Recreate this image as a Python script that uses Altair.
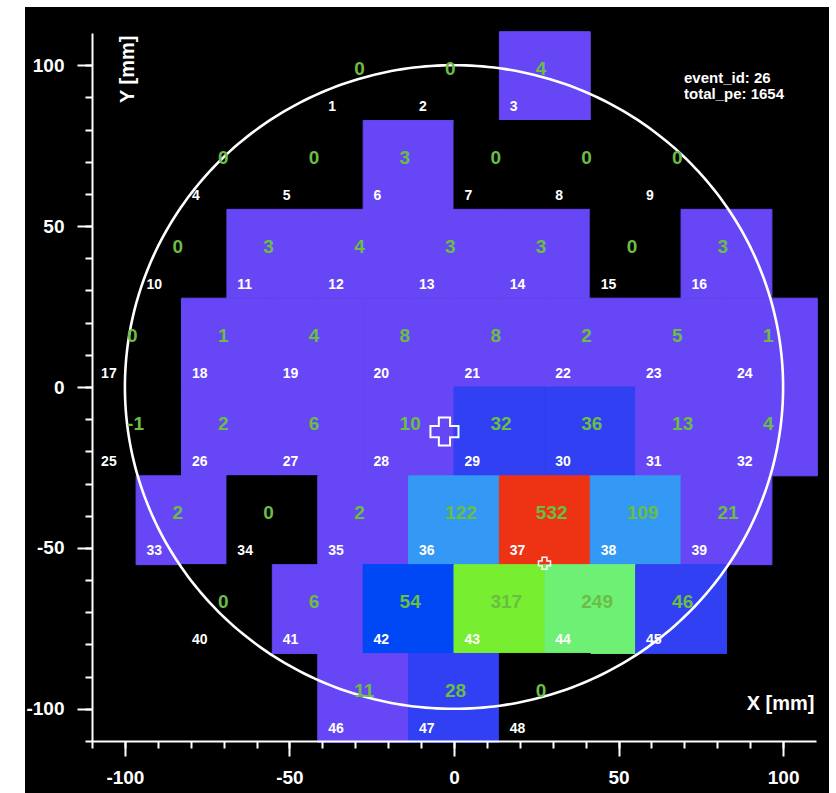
import altair as alt
import numpy as np
import pandas as pd

FONT = "Liberation Sans"

# PMT array layout: row centres (mm) and x centres of the cells in each row (mm)
ROW_Y = [96.6, 69.0, 41.4, 13.8, -13.8, -41.4, -69.0, -96.6]
ROW_X = [
    [-27.6, 0.0, 27.6],
    [-69.0, -41.4, -13.8, 13.8, 41.4, 69.0],
    [-82.8, -55.2, -27.6, 0.0, 27.6, 55.2, 82.8],
    [-96.6, -69.0, -41.4, -13.8, 13.8, 41.4, 69.0, 96.6],
    [-96.6, -69.0, -41.4, -13.8, 13.8, 41.4, 69.0, 96.6],
    [-82.8, -55.2, -27.6, 0.0, 27.6, 55.2, 82.8],
    [-69.0, -41.4, -13.8, 13.8, 41.4, 69.0],
    [-27.6, 0.0, 27.6],
]
PITCH = 27.6  # cell side (mm)

# photo-electrons seen by each PMT, channels 1..48
PE = [
    0, 0, 4,
    0, 0, 3, 0, 0, 0,
    0, 3, 4, 3, 3, 0, 3,
    0, 1, 4, 8, 8, 2, 5, 1,
    -1, 2, 6, 10, 32, 36, 13, 4,
    2, 0, 2, 122, 532, 109, 21,
    0, 6, 54, 317, 249, 46,
    11, 28, 0,
]

EVENT_ID = 26
TOTAL_PE = 1654
DETECTOR_R = 100.0          # fiducial circle radius (mm)
RECO_POS = (-2.9, -13.85)   # reconstructed position (mm)
TRUE_POS = (27.5, -54.8)    # true position (mm)

# colour bins for the PE counts
COLOR_BREAKS = [1, 25, 50, 100, 200, 300, 500]
COLOR_RANGE = ["#000000", "#6746F5", "#3040F2", "#0048F5", "#3399F4",
               "#6EF075", "#78EE30", "#EE3314"]

rows = []
ch = 1
for yc, xs_row in zip(ROW_Y, ROW_X):
    for xc in xs_row:
        pe = PE[ch - 1]
        rows.append({"ch": str(ch), "x": xc, "y": yc, "pe": pe, "pe_lab": str(pe)})
        ch += 1
df = pd.DataFrame(rows)
df["x0"] = df["x"] - PITCH / 2
df["x1"] = df["x"] + PITCH / 2
df["y0"] = df["y"] - PITCH / 2
df["y1"] = df["y"] + PITCH / 2

theta = np.linspace(0, 2 * np.pi, 361)
circ = pd.DataFrame({"cx": DETECTOR_R * np.cos(theta),
                     "cy": DETECTOR_R * np.sin(theta),
                     "k": np.arange(len(theta))})

W, H = 724, 708
xs = alt.Scale(domain=[-110, 110], nice=False, zero=False)
ys = alt.Scale(domain=[-110, 110], nice=False, zero=False)

common_axis = dict(
    tickColor="white", tickWidth=2, domainColor="white", domainWidth=2,
    labelColor="white", labelFont=FONT, labelFontSize=19, labelFontWeight="bold",
    labelExpr="'' + datum.value",
    grid=False, zindex=1, labelFlush=False, labelOverlap=False,
    titleColor="white", titleFont=FONT, titleFontSize=20, titleFontWeight="bold",
)
x_major = alt.Axis(orient="bottom", values=[-100, -50, 0, 50, 100], tickSize=15,
                   labelPadding=12, title="X [mm]", titleAlign="right",
                   titleBaseline="middle", titleX=722, titleY=-38, **common_axis)
y_major = alt.Axis(orient="left", values=[-100, -50, 0, 50, 100], tickSize=15,
                   labelPadding=13, title="Y [mm]", titleAngle=270, titleAlign="right",
                   titleBaseline="middle", titleX=35, titleY=2, **common_axis)
minor_vals = list(range(-110, 101, 10))
x_minor = alt.Axis(orient="bottom", values=minor_vals, tickSize=7, tickWidth=2,
                   tickColor="white", labels=False, domain=False, grid=False,
                   title=None, zindex=1)
y_minor = alt.Axis(orient="left", values=minor_vals, tickSize=7, tickWidth=2,
                   tickColor="white", labels=False, domain=False, grid=False,
                   title=None, zindex=1)

backdrop = alt.Chart(pd.DataFrame({"a": [0]})).mark_rect(color="black").encode(
    x=alt.value(-67), x2=alt.value(737), y=alt.value(-26), y2=alt.value(760)
)

pe_scale = alt.Scale(type="threshold", domain=COLOR_BREAKS, range=COLOR_RANGE)
cells = alt.Chart(df).mark_rect(strokeWidth=1).encode(
    x=alt.X("x0:Q", scale=xs, axis=x_major),
    x2="x1:Q",
    y=alt.Y("y0:Q", scale=ys, axis=y_major),
    y2="y1:Q",
    color=alt.Color("pe:Q", scale=pe_scale, legend=None),
    stroke=alt.Stroke("pe:Q", scale=pe_scale, legend=None),
)

circle = alt.Chart(circ).mark_line(color="white", strokeWidth=2.6).encode(
    x=alt.X("cx:Q", scale=xs, axis=x_minor),
    y=alt.Y("cy:Q", scale=ys, axis=y_minor),
    order="k:Q",
)

pe_text = alt.Chart(df).mark_text(
    align="left", baseline="middle", dx=-9, dy=-7, font=FONT, fontSize=19,
    fontWeight="bold", color="#6ABD45"
).encode(
    x=alt.X("x:Q", scale=xs, axis=None),
    y=alt.Y("y:Q", scale=ys, axis=None),
    text="pe_lab:N",
)

ch_text = alt.Chart(df).mark_text(
    align="left", baseline="middle", dx=-35, dy=31, font=FONT, fontSize=14,
    fontWeight="bold", color="white"
).encode(
    x=alt.X("x:Q", scale=xs, axis=None),
    y=alt.Y("y:Q", scale=ys, axis=None),
    text="ch:N",
)

reco = alt.Chart(pd.DataFrame({"x": [RECO_POS[0]], "y": [RECO_POS[1]]})).mark_point(
    shape="cross", filled=False, stroke="white", strokeWidth=2, size=784, opacity=1
).encode(
    x=alt.X("x:Q", scale=xs, axis=None),
    y=alt.Y("y:Q", scale=ys, axis=None),
)

true_pt = alt.Chart(pd.DataFrame({"x": [TRUE_POS[0]], "y": [TRUE_POS[1]]})).mark_point(
    shape="cross", filled=False, stroke="white", strokeWidth=1.5, size=144, opacity=1
).encode(
    x=alt.X("x:Q", scale=xs, axis=None),
    y=alt.Y("y:Q", scale=ys, axis=None),
)

info = alt.Chart(pd.DataFrame({"t": [f"event_id: {EVENT_ID}\ntotal_pe: {TOTAL_PE}"]})).mark_text(
    align="left", baseline="top", lineBreak="\n", lineHeight=16, font=FONT,
    fontSize=15, fontWeight="bold", color="white"
).encode(x=alt.value(592), y=alt.value(38), text="t:N")

chart = alt.layer(
    backdrop, cells, circle, pe_text, ch_text, reco, true_pt, info
).resolve_axis(
    x="independent", y="independent"
).properties(
    width=W, height=H,
    autosize=alt.AutoSizeParams(type="none"),
    padding={"left": 92, "top": 33, "right": 20, "bottom": 52},
    background="white",
).configure_view(stroke=None)

chart.save("out.html", embed_options={"renderer": "svg", "actions": False})
